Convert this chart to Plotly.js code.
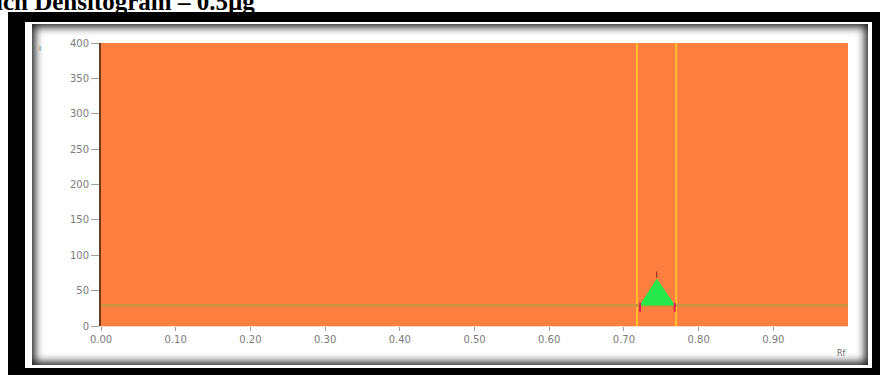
<!DOCTYPE html>
<html>
<head>
<meta charset="utf-8">
<script src="https://cdn.plot.ly/plotly-3.0.1.min.js"></script>
<style>
  html, body { margin: 0; padding: 0; background: #fff; width: 881px; height: 377px; overflow: hidden; }
  .outer { position: absolute; left: 8px; top: 12px; width: 872px; height: 363px; background: #000; }
  .rim { position: absolute; left: 25px; top: 22px; width: 847px; height: 346px; background: #fff; }
  .panel { position: absolute; left: 32px; top: 24px; width: 836px; height: 341px; background: #fff;
           box-shadow: inset 0 0 9px 3px rgba(0,0,0,0.9); }
  #chart { position: absolute; left: 0; top: 0; width: 881px; height: 377px; }
  #title { position: absolute; left: 0; top: 0; overflow: visible; }
</style>
</head>
<body>
<div class="outer"></div>
<div class="rim"></div>
<div class="panel"></div>
<div id="chart"></div>
<svg id="title" width="881" height="20">
  <text x="-4" y="10" font-family="Liberation Serif, Times New Roman, serif" font-weight="bold" font-size="25" fill="#000">ich Densitogram – 0.5µg</text>
</svg>
<script>
// Densitogram scan: Rf positions and detector response
const xTicks = [0.0, 0.1, 0.2, 0.3, 0.4, 0.5, 0.6, 0.7, 0.8, 0.9];
const yTicks = [0, 50, 100, 150, 200, 250, 300, 350, 400];

// baseline across the whole track
const baselineRf = [0.0, 1.0];
const baselineAU = [29, 29];

// single detected peak
const peakRf = [0.7216, 0.744, 0.768];
const peakAU = [29, 66, 29];

// integration window borders
const windowStart = 0.7175;
const windowEnd = 0.770;
const windowAU = [0, 400];

// start / end markers of the peak and apex marker
const peakStartRf = [0.7216, 0.7216];
const peakEndRf = [0.768, 0.768];
const peakMarkAU = [20, 33];
const apexRf = [0.744, 0.744];
const apexMarkAU = [68, 77];

const traces = [
  { x: [windowStart, windowStart], y: windowAU, mode: 'lines',
    line: { color: '#ffc22e', width: 2 }, hoverinfo: 'skip' },
  { x: [windowEnd, windowEnd], y: windowAU, mode: 'lines',
    line: { color: '#ffc22e', width: 2 }, hoverinfo: 'skip' },
  { x: baselineRf, y: baselineAU, mode: 'lines',
    line: { color: '#cc923c', width: 3 }, hoverinfo: 'skip' },
  { x: peakRf, y: peakAU, mode: 'lines', fill: 'toself',
    fillcolor: '#27e84a', line: { color: '#27e84a', width: 1 } },
  { x: peakStartRf, y: peakMarkAU, mode: 'lines',
    line: { color: '#e0204c', width: 2 }, hoverinfo: 'skip' },
  { x: peakEndRf, y: peakMarkAU, mode: 'lines',
    line: { color: '#e0204c', width: 2 }, hoverinfo: 'skip' },
  { x: apexRf, y: apexMarkAU, mode: 'lines',
    line: { color: '#7a2c1c', width: 1 }, hoverinfo: 'skip' }
];

const tickFont = { family: 'DejaVu Sans, sans-serif', size: 10, color: '#7c7c7c' };

const layout = {
  width: 881, height: 377,
  margin: { l: 101, r: 33, t: 43, b: 51 },
  paper_bgcolor: 'rgba(0,0,0,0)',
  plot_bgcolor: '#fe7f40',
  showlegend: false,
  xaxis: {
    range: [0, 1.0], tickvals: xTicks, tickformat: '.2f',
    showgrid: false, zeroline: false,
    showline: true, linecolor: '#f4dcc0', linewidth: 1,
    ticks: 'outside', ticklen: 4, tickcolor: '#a0a0a0',
    tickfont: tickFont
  },
  yaxis: {
    range: [0, 400], tickvals: yTicks,
    showgrid: false, zeroline: false,
    showline: true, linecolor: '#6b3a22', linewidth: 2,
    ticks: 'outside', ticklen: 8, tickcolor: '#a0a0a0',
    tickfont: tickFont
  },
  annotations: [
    { text: 'Rf', xref: 'paper', yref: 'paper', x: 1.0, y: -0.075,
      xanchor: 'right', yanchor: 'top', showarrow: false,
      font: { family: 'DejaVu Sans, sans-serif', size: 8, color: '#6c6c6c' } },
    { text: 'I', xref: 'paper', yref: 'paper', x: -0.082, y: 0.98,
      xanchor: 'center', yanchor: 'middle', showarrow: false,
      font: { family: 'DejaVu Sans, sans-serif', size: 7, color: '#6c6c6c' } }
  ]
};

Plotly.newPlot('chart', traces, layout, { staticPlot: true, displayModeBar: false });
</script>
</body>
</html>
